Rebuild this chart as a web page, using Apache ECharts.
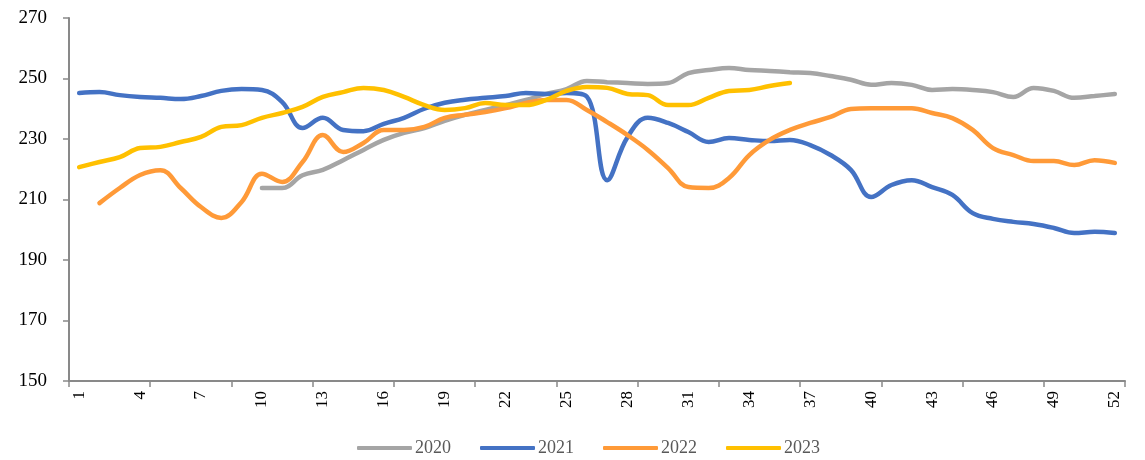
<!DOCTYPE html>
<html>
<head>
<meta charset="utf-8">
<script src="https://cdn.jsdelivr.net/npm/echarts@6/dist/echarts.min.js"></script>
<style>html,body{margin:0;padding:0;background:#fff;}#c{width:1145px;height:460px;}</style>
</head>
<body>
<div id="c"></div>
<script>
var weeks = [];
for (var i = 1; i <= 52; i++) weeks.push(String(i));

var s2020 = [null,null,null,null,null,null,null,null,null,213.8,
  213.8,218,219.8,223,226.4,229.7,232,233.6,236,238,
  239.6,241.2,242.9,244.9,246.5,249.2,248.8,248.5,248.2,248.5,
  251.8,252.8,253.5,252.8,252.5,252.1,251.8,250.8,249.6,247.9,
  248.5,247.9,246.2,246.5,246.2,245.5,243.9,246.9,245.9,243.6,
  244.2,244.9];
var s2021 = [245.2,245.5,244.5,243.9,243.6,243.2,244.2,245.9,246.5,246.2,
  242.2,233.6,237,233,232.6,235,237,240,242,243,
  243.6,244.2,245.2,244.9,245.2,244,216.4,230.6,237,235.3,
  232.3,229,230.3,229.7,229.3,229.7,228,224.7,219.8,210.8,
  214.8,216.4,214.1,211.5,205.5,203.6,202.6,201.9,200.6,198.9,
  199.3,198.9];
var s2022 = [null,208.8,213.8,218.1,219.7,213.8,207.5,203.9,209.2,218.5,
  215.8,222.4,231.3,225.7,228.7,233,233,234,237,238,
  238.9,240.2,241.9,242.9,242.9,239.6,235.6,231.3,226.4,220.4,
  214.1,213.8,217.1,224.7,229.7,233,235.3,237.3,239.9,240.2,
  240.2,240.2,238.6,236.9,233,227,224.7,222.7,222.7,221.4,
  223,222.1];
var s2023 = [220.7,222.4,224,227,227.4,229,230.7,234,234.6,237,
  238.6,240.6,243.9,245.5,246.9,246.2,243.9,241.2,239.6,240.2,
  241.9,241.2,241.2,242.9,245.9,247.2,246.9,244.9,244.5,241.2,
  241.2,243.6,245.9,246.2,247.5,248.5];

var names = ['2020','2021','2022','2023'];
var colors = ['#A5A5A5','#4472C4','#FF9A38','#FFC000'];
var datas = [s2020, s2021, s2022, s2023];

var chart = echarts.init(document.getElementById('c'));
var font = '"Liberation Serif", "Times New Roman", serif';
chart.setOption({
  animation: false,
  backgroundColor: '#fff',
  grid: {left: 69, right: 20, top: 18, bottom: 79},
  legend: {
    bottom: -2,
    left: 352,
    itemWidth: 55,
    itemHeight: 4,
    itemGap: 29,
    icon: 'roundRect',
    textStyle: {fontFamily: font, fontSize: 18, color: '#595959', padding: [0, 0, 0, -2]},
    data: names
  },
  xAxis: {
    type: 'category',
    data: weeks,
    boundaryGap: true,
    axisLine: {lineStyle: {color: '#898989', width: 2}},
    axisTick: {show: true, interval: 3, length: 6, lineStyle: {color: '#898989', width: 1.5}},
    axisLabel: {interval: 2, rotate: 90, fontFamily: font, fontSize: 17, color: '#000', margin: 10}
  },
  yAxis: {
    type: 'value',
    min: 150, max: 270, interval: 20,
    axisLine: {show: true, lineStyle: {color: '#898989', width: 2}},
    axisTick: {show: true, length: 6, lineStyle: {color: '#898989', width: 1.5}},
    splitLine: {show: false},
    axisLabel: {fontFamily: font, fontSize: 19, color: '#000', margin: 22}
  },
  series: names.map(function (n, i) {
    return {
      name: n,
      type: 'line',
      data: datas[i],
      smooth: 0.4,
      symbol: 'none',
      connectNulls: false,
      lineStyle: {color: colors[i], width: 4.5, cap: 'round'},
      itemStyle: {color: colors[i]}
    };
  })
});
</script>
</body>
</html>
